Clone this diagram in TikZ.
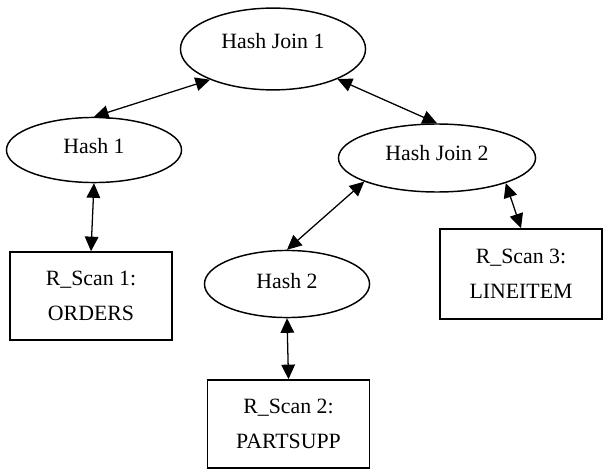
\documentclass[tikz,border=0pt]{standalone}
\usepackage{fontspec}
\setmainfont{Liberation Serif}
\usetikzlibrary{shapes.geometric,arrows.meta}

\begin{document}
\begin{tikzpicture}[
  x=0.55pt, y=-0.55pt,
  op/.style={ellipse, draw, line width=0.8pt, inner sep=0pt, font=\fontsize{12}{14}\selectfont},
  scan/.style={rectangle, draw, line width=0.8pt, inner sep=0pt, align=center, minimum width=89pt, minimum height=48.5pt, font=\fontsize{12}{19}\selectfont},
  link/.style={{Triangle[length=8pt,width=7.5pt]}-{Triangle[length=8pt,width=7.5pt]}, line width=0.7pt}
]
\useasboundingbox (0,0) rectangle (603,472);

% Join operators
\node[op, minimum width=101.8pt, minimum height=45pt, text depth=9pt] (hj1) at (273, 49) {Hash Join 1};
\node[op, minimum width=108.4pt, minimum height=37.4pt, text depth=5.5pt] (hj2) at (437, 158) {Hash Join 2};

% Hash operators
\node[op, minimum width=96.3pt, minimum height=35.8pt, text depth=4.4pt] (hash1) at (94, 150) {Hash 1};
\node[op, minimum width=90.8pt, minimum height=36.9pt, text depth=3.3pt] (hash2) at (287, 284) {Hash 2};

% Scans
\node[scan] (rscan1) at (91, 296) {R\_Scan 1:\\ORDERS};
\node[scan] (rscan2) at (288.5, 424) {R\_Scan 2:\\PARTSUPP};
\node[scan, minimum height=49.5pt] (rscan3) at (521, 274) {R\_Scan 3:\\LINEITEM};

% Arrows
\draw[link] (hash1.north) -- (hj1.206);
\draw[link] (hj1.335) -- (hj2.north);
\draw[link] (hj2.198) -- (hash2.north);
\draw[link] (hj2.340) -- (rscan3.north);
\draw[link] (hash1.south) -- (rscan1.north);
\draw[link] (hash2.south) -- (rscan2.north);

\end{tikzpicture}
\end{document}
